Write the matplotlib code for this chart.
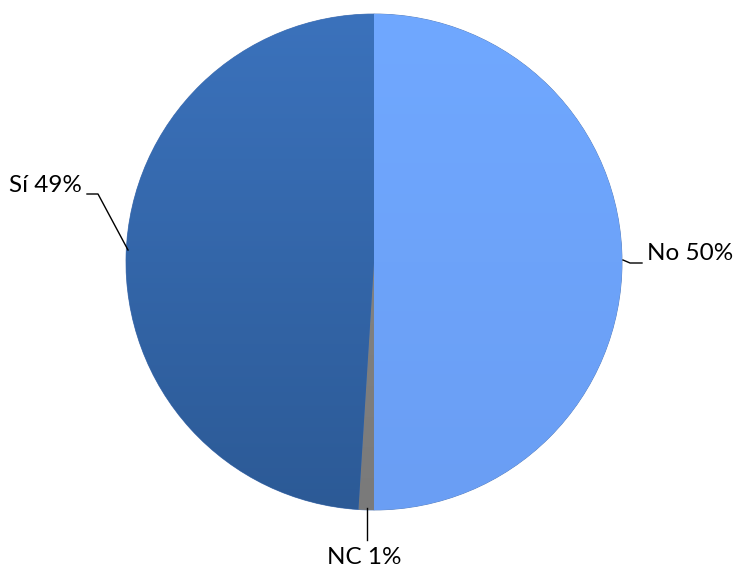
import matplotlib
matplotlib.use("Agg")
import matplotlib.pyplot as plt
import numpy as np
from matplotlib.colors import LinearSegmentedColormap

labels = ["No", "NC", "Sí"]
values = [50, 1, 49]
colors = ["#6EA6FF", "#858585", "#3468AC"]
grad_top = ["#70A8FF", "#8A8A8A", "#3B72BC"]
grad_bot = ["#6A9EF4", "#7A7A7A", "#2C5A96"]

fig = plt.figure(figsize=(7.36, 5.75), dpi=100)
W, H = 736, 575
cx, cy, r = 374, 262, 248
ax = fig.add_axes([(cx - r) / W, (H - (cy + r)) / H, 2 * r / W, 2 * r / H])

wedges, _ = ax.pie(values, colors=colors, startangle=90, counterclock=False,
                   radius=1, center=(0, 0),
                   wedgeprops=dict(linewidth=0.6, edgecolor="#5a7fb8"))
ax.set_xlim(-1, 1)
ax.set_ylim(-1, 1)
ax.set_aspect("equal")
ax.axis("off")

grad = np.linspace(0, 1, 256).reshape(-1, 1)
for w, t, b in zip(wedges, grad_top, grad_bot):
    cmap = LinearSegmentedColormap.from_list("g", [b, t])
    im = ax.imshow(grad, extent=(-1, 1, -1, 1), origin="lower", cmap=cmap,
                   aspect="auto", zorder=w.get_zorder() + 0.1)
    im.set_clip_path(w)
ax.set_xlim(-1, 1)
ax.set_ylim(-1, 1)

def d(px, py):
    return ((px - cx) / r, (cy - py) / r)

fs = 17.5
fam = ["Lato", "DejaVu Sans"]
# No
ax.plot(*zip(d(623, 260), d(630, 263), d(642, 263)), color="black", lw=1, clip_on=False)
ax.text(*d(647, 253), f"{labels[0]} {values[0]}%", fontsize=fs, family=fam,
        ha="left", va="center")
# NC
ax.plot(*zip(d(367, 508), d(367, 540)), color="black", lw=1, clip_on=False)
ax.text(*d(364, 558), f"{labels[1]} {values[1]}%", fontsize=fs, family=fam,
        ha="center", va="center")
# Sí
ax.plot(*zip(d(128, 250), d(98, 194), d(87, 194)), color="black", lw=1, clip_on=False)
ax.text(*d(82, 185), f"{labels[2]} {values[2]}%", fontsize=fs, family=fam,
        ha="right", va="center")

fig.savefig("out.png", dpi=100)
